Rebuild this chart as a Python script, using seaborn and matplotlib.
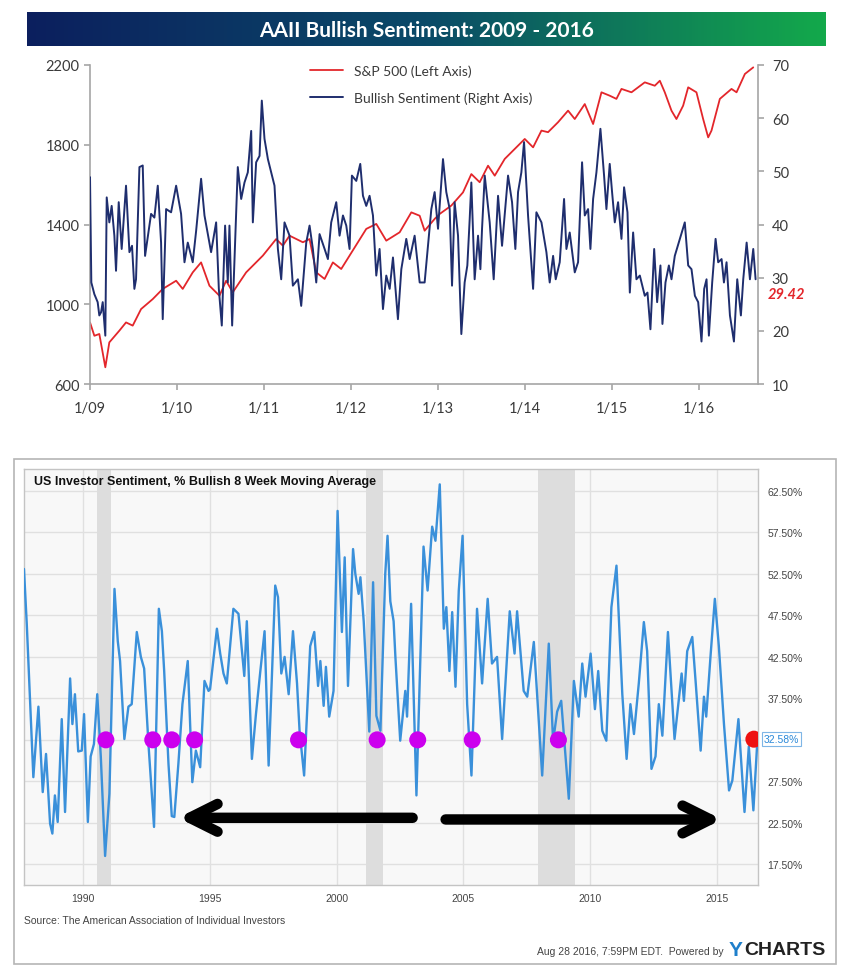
import numpy as np
import pandas as pd
import matplotlib
matplotlib.use("Agg")
import matplotlib.pyplot as plt
import matplotlib.patches as mpatches
import matplotlib.transforms as mtrans
from matplotlib.colors import LinearSegmentedColormap
import seaborn as sns

sns.set_style("white")
plt.rcParams['font.family'] = ['Lato', 'DejaVu Sans']
ARIAL = ['Liberation Sans', 'DejaVu Sans']

# ---------------- top chart data ----------------
sp_t = [2009.000, 2009.050, 2009.107, 2009.176, 2009.222, 2009.338, 2009.414, 2009.491, 2009.587, 2009.721,
        2009.836, 2009.990, 2010.066, 2010.181, 2010.277, 2010.373, 2010.488, 2010.565, 2010.641, 2010.795,
        2010.987, 2011.140, 2011.217, 2011.294, 2011.447, 2011.524, 2011.601, 2011.697, 2011.792, 2011.888,
        2011.984, 2012.176, 2012.291, 2012.406, 2012.560, 2012.694, 2012.790, 2012.847, 2012.962, 2013.020,
        2013.154, 2013.288, 2013.384, 2013.480, 2013.576, 2013.653, 2013.768, 2013.883, 2013.998, 2014.094,
        2014.190, 2014.266, 2014.381, 2014.496, 2014.573, 2014.688, 2014.784, 2014.880, 2014.975, 2015.052,
        2015.110, 2015.225, 2015.378, 2015.493, 2015.551, 2015.608, 2015.685, 2015.742, 2015.819, 2015.877,
        2015.972, 2016.049, 2016.107, 2016.145, 2016.241, 2016.375, 2016.433, 2016.529, 2016.625]
sp_v = [909, 842, 851, 684, 809, 868, 909, 893, 976, 1026,
        1077, 1118, 1077, 1160, 1210, 1093, 1043, 1118, 1060, 1160,
        1244, 1327, 1294, 1344, 1311, 1327, 1160, 1127, 1210, 1177,
        1244, 1378, 1403, 1319, 1361, 1461, 1444, 1369, 1428, 1453,
        1495, 1561, 1653, 1612, 1695, 1645, 1729, 1779, 1829, 1787,
        1871, 1863, 1913, 1971, 1929, 2004, 1904, 2063, 2046, 2030,
        2080, 2063, 2113, 2096, 2121, 2063, 1971, 1929, 1996, 2088,
        2063, 1929, 1837, 1871, 2030, 2080, 2063, 2155, 2188]

bull_t_a = [2009.000, 2009.015, 2009.050, 2009.088, 2009.107, 2009.127, 2009.146, 2009.176, 2009.192, 2009.222,
            2009.249, 2009.280, 2009.299, 2009.330, 2009.364, 2009.414, 2009.453, 2009.483, 2009.510, 2009.529,
            2009.568, 2009.606, 2009.633, 2009.664, 2009.702, 2009.740, 2009.779, 2009.817, 2009.836, 2009.875,
            2009.932, 2009.990, 2010.047, 2010.086, 2010.124, 2010.181, 2010.220, 2010.277, 2010.316, 2010.354,
            2010.392, 2010.450, 2010.481, 2010.515, 2010.553, 2010.584, 2010.603, 2010.634, 2010.699, 2010.738,
            2010.776, 2010.814, 2010.853, 2010.872, 2010.910, 2010.949, 2010.975, 2011.006, 2011.045, 2011.083,
            2011.121, 2011.160, 2011.198, 2011.236, 2011.294, 2011.332, 2011.390, 2011.428, 2011.486, 2011.524,
            2011.562, 2011.601, 2011.639, 2011.697, 2011.735, 2011.773, 2011.831, 2011.869, 2011.908, 2011.946,
            2011.984, 2012.011, 2012.061, 2012.107, 2012.138, 2012.176, 2012.214, 2012.253, 2012.291, 2012.329,
            2012.368, 2012.406, 2012.445, 2012.483, 2012.540, 2012.579, 2012.636, 2012.675, 2012.732, 2012.790]
bull_v_a = [48.9, 29.1, 26.9, 25.4, 22.9, 23.5, 25.4, 19.1, 45.1, 40.4,
            43.5, 37.9, 31.3, 44.2, 35.4, 47.3, 34.8, 36.0, 27.9, 29.7,
            50.8, 51.1, 34.1, 37.6, 42.0, 41.3, 47.3, 36.6, 22.2, 42.9,
            42.3, 47.3, 42.0, 32.9, 36.6, 32.9, 38.8, 48.6, 41.7, 38.2,
            34.8, 40.4, 27.9, 21.0, 39.8, 29.1, 39.8, 21.0, 50.8, 44.8,
            47.9, 49.8, 57.6, 40.4, 51.7, 52.9, 63.3, 56.1, 52.3, 49.8,
            47.3, 35.4, 29.7, 40.4, 37.9, 28.5, 29.7, 24.7, 36.6, 39.8,
            35.4, 29.1, 38.2, 35.4, 33.5, 40.4, 44.2, 37.9, 41.7, 39.8,
            35.4, 49.2, 48.2, 51.4, 45.4, 43.5, 45.4, 41.7, 30.4, 35.4,
            24.1, 30.4, 27.9, 33.8, 22.2, 31.6, 37.3, 33.5, 37.9, 29.1]
bull_t_b = [2012.847, 2012.924, 2012.962, 2013.001, 2013.058, 2013.096, 2013.135, 2013.162, 2013.192, 2013.231,
            2013.269, 2013.307, 2013.338, 2013.365, 2013.384, 2013.422, 2013.461, 2013.488, 2013.507, 2013.538,
            2013.595, 2013.641, 2013.691, 2013.737, 2013.806, 2013.852, 2013.890, 2013.921, 2013.959, 2013.990,
            2014.036, 2014.094, 2014.132, 2014.190, 2014.247, 2014.285, 2014.324, 2014.354, 2014.400, 2014.450,
            2014.477, 2014.515, 2014.573, 2014.611, 2014.657, 2014.688, 2014.726, 2014.753, 2014.784, 2014.822,
            2014.868, 2014.910, 2014.937, 2014.975, 2015.002, 2015.033, 2015.071, 2015.110, 2015.140, 2015.179,
            2015.206, 2015.244, 2015.282, 2015.321, 2015.378, 2015.409, 2015.443, 2015.486, 2015.520, 2015.558,
            2015.581, 2015.616, 2015.655, 2015.685, 2015.723, 2015.781, 2015.838, 2015.877, 2015.915, 2015.954,
            2015.992, 2016.030, 2016.061, 2016.088, 2016.115, 2016.153, 2016.192, 2016.222, 2016.261, 2016.288,
            2016.318, 2016.357, 2016.403, 2016.441, 2016.483, 2016.510, 2016.549, 2016.587, 2016.625, 2016.652]
bull_v_b = [29.1, 42.9, 46.1, 39.2, 52.3, 46.1, 42.9, 28.5, 44.2, 37.9,
            19.4, 29.1, 32.3, 41.0, 47.9, 29.7, 37.9, 31.6, 39.2, 49.2,
            40.4, 29.7, 45.4, 36.0, 49.2, 44.2, 35.4, 46.1, 49.8, 55.5,
            41.7, 27.9, 42.3, 40.4, 34.8, 29.1, 34.1, 29.7, 32.9, 44.8,
            35.4, 38.5, 31.0, 32.9, 51.7, 41.7, 42.9, 35.4, 44.8, 49.8,
            58.0, 49.2, 42.9, 51.4, 46.1, 40.4, 44.2, 37.3, 47.0, 42.3,
            27.2, 38.5, 29.7, 30.4, 26.6, 27.2, 20.3, 35.4, 25.4, 32.3,
            21.3, 29.1, 32.3, 29.7, 34.1, 37.3, 40.4, 32.3, 31.6, 26.6,
            25.4, 18.0, 27.9, 29.7, 19.1, 29.1, 37.3, 32.9, 33.5, 29.1,
            32.9, 22.9, 18.0, 29.7, 22.9, 29.7, 36.6, 29.7, 35.4, 29.7]
bull_latest = '29.42'
top_xticks = [2009, 2010, 2011, 2012, 2013, 2014, 2015, 2016]
top_xlabels = ['1/09', '1/10', '1/11', '1/12', '1/13', '1/14', '1/15', '1/16']

# ---------------- bottom chart data (8 week moving average) ----------------
ma_t = [1987.67, 1987.78, 1988.04, 1988.24, 1988.41, 1988.54, 1988.70, 1988.79, 1988.89, 1989.00,
        1989.16, 1989.29, 1989.49, 1989.58, 1989.68, 1989.81, 1989.95, 1990.04, 1990.19, 1990.30,
        1990.43, 1990.56, 1990.70, 1990.87, 1991.04, 1991.24, 1991.37, 1991.46, 1991.63, 1991.79,
        1991.92, 1992.12, 1992.28, 1992.41, 1992.58, 1992.80, 1992.99, 1993.11, 1993.20, 1993.37,
        1993.50, 1993.60, 1993.76, 1993.92, 1994.13, 1994.31, 1994.45, 1994.62, 1994.79, 1994.95,
        1995.01, 1995.28, 1995.41, 1995.54, 1995.67, 1995.93, 1996.13, 1996.36, 1996.46, 1996.66,
        1996.82, 1996.99, 1997.16, 1997.32, 1997.58, 1997.69, 1997.82, 1997.95, 1998.11, 1998.28,
        1998.44, 1998.54, 1998.72, 1998.96, 1999.12, 1999.27, 1999.36, 1999.49, 1999.58, 1999.71,
        1999.88, 2000.04, 2000.21, 2000.32, 2000.45, 2000.65, 2000.74, 2000.87, 2000.94, 2001.07,
        2001.29, 2001.44, 2001.57, 2001.73, 2001.92, 2002.01, 2002.12, 2002.25, 2002.32, 2002.51,
        2002.71, 2002.78, 2002.94, 2003.15, 2003.43, 2003.59, 2003.77, 2003.90, 2004.07, 2004.23,
        2004.33, 2004.45, 2004.56, 2004.69, 2004.82, 2004.97, 2005.15, 2005.32, 2005.54, 2005.74,
        2005.96, 2006.13, 2006.33, 2006.53, 2006.83, 2007.02, 2007.12, 2007.38, 2007.52, 2007.78,
        2008.11, 2008.37, 2008.54, 2008.70, 2008.86, 2009.16, 2009.36, 2009.55, 2009.69, 2009.82,
        2010.02, 2010.19, 2010.32, 2010.48, 2010.64, 2010.84, 2011.04, 2011.27, 2011.44, 2011.59,
        2011.73, 2011.92, 2012.12, 2012.25, 2012.42, 2012.58, 2012.71, 2012.85, 2013.07, 2013.33,
        2013.61, 2013.70, 2013.83, 2014.03, 2014.16, 2014.36, 2014.49, 2014.58, 2014.75, 2014.92,
        2015.08, 2015.28, 2015.48, 2015.61, 2015.85, 2016.09, 2016.26, 2016.44, 2016.60]
ma_v = [53.1, 46.5, 28.0, 36.5, 26.2, 30.8, 22.4, 21.2, 25.8, 22.6,
        35.0, 23.8, 39.9, 34.4, 38.0, 31.1, 31.2, 35.6, 22.6, 30.5,
        32.0, 38.0, 30.5, 18.5, 26.0, 50.7, 44.4, 42.0, 32.6, 36.5,
        36.8, 45.5, 42.5, 41.1, 32.0, 22.0, 48.3, 45.6, 40.8, 29.6,
        23.3, 23.2, 29.6, 36.8, 42.0, 27.4, 31.2, 29.2, 39.6, 38.4,
        38.6, 45.9, 42.9, 40.5, 39.3, 48.3, 47.7, 40.2, 46.8, 30.2,
        35.6, 40.7, 45.6, 29.4, 51.1, 49.7, 40.5, 42.5, 38.0, 45.6,
        39.3, 33.6, 28.2, 43.8, 45.5, 39.0, 42.0, 36.6, 41.3, 35.3,
        38.4, 60.1, 45.5, 54.5, 39.0, 55.5, 52.5, 50.1, 52.1, 46.8,
        33.5, 51.5, 35.4, 33.6, 52.5, 57.1, 49.2, 46.8, 42.5, 32.4,
        38.4, 35.3, 48.9, 25.8, 55.8, 50.5, 58.2, 56.5, 63.3, 45.9,
        48.5, 40.8, 47.9, 38.9, 50.5, 57.1, 36.8, 28.2, 48.3, 39.3,
        49.5, 41.7, 42.5, 32.6, 48.0, 42.9, 48.0, 38.4, 37.7, 44.3,
        28.2, 44.1, 32.3, 35.9, 37.2, 25.4, 39.6, 35.3, 41.7, 37.7,
        42.9, 36.2, 40.8, 33.6, 32.4, 48.5, 53.5, 38.0, 30.2, 36.8,
        33.2, 39.3, 46.7, 43.2, 29.0, 30.5, 36.8, 33.0, 45.5, 32.6,
        40.5, 37.2, 43.2, 44.9, 39.6, 31.2, 37.7, 35.3, 42.6, 49.5,
        43.7, 34.4, 26.4, 27.6, 35.0, 23.8, 31.7, 24.0, 32.58]
recessions = [(1990.56, 1991.10), (2001.17, 2001.82), (2007.95, 2009.40)]
marked_years = [1990.9, 1992.75, 1993.5, 1994.4, 1998.5, 2001.6, 2003.2, 2005.35, 2008.75]
marked_level = 32.5
latest_year, latest_value = 2016.46, 32.58
arrow_tails = [2003.0, 2004.3]
arrow_tips = [1993.75, 2015.2]
arrow_levels = [23.1, 22.9]
bottom_yticks = [17.5, 22.5, 27.5, 32.5, 37.5, 42.5, 47.5, 52.5, 57.5, 62.5]
bottom_xticks = [1990, 1995, 2000, 2005, 2010, 2015]

assert len(sp_t) == len(sp_v)
assert len(bull_t_a) == len(bull_v_a) and len(bull_t_b) == len(bull_v_b)
assert len(ma_t) == len(ma_v)

sp_df = pd.DataFrame({'date': sp_t, 'sp500': sp_v})
bull_df = pd.DataFrame({'date': bull_t_a + bull_t_b, 'bullish': bull_v_a + bull_v_b})
ma_df = pd.DataFrame({'date': ma_t, 'ma': ma_v})

fig = plt.figure(figsize=(8.5, 9.79), dpi=100)

# banner with gradient
bax = fig.add_axes([0.0318, 0.952, 0.94, 0.0347])
cmap = LinearSegmentedColormap.from_list('banner', ['#0c1f5e', '#0a4a68', '#13a94b'])
bax.imshow(np.linspace(0, 1, 256).reshape(1, -1), aspect='auto', cmap=cmap, extent=[0, 1, 0, 1])
bax.set_axis_off()
bax.text(0.5, 0.47, 'AAII Bullish Sentiment: 2009 - 2016', color='white', fontsize=15,
         fontweight='bold', ha='center', va='center', transform=bax.transAxes)

# ---------------- top chart ----------------
RED = '#e3262b'
NAVY = '#1f2e6e'
SPINE = '#a6a6a6'
ax1 = fig.add_axes([0.1059, 0.6067, 0.7859, 0.3259])
sns.lineplot(data=sp_df, x='date', y='sp500', ax=ax1, color=RED, lw=1.3,
             label='S&P 500 (Left Axis)', legend=False)
ax2 = ax1.twinx()
sns.lineplot(data=bull_df, x='date', y='bullish', ax=ax2, color=NAVY, lw=1.4,
             label='Bullish Sentiment (Right Axis)', legend=False)

ax1.set_xlim(2009, 2016.68)
ax1.set_ylim(600, 2200)
ax2.set_ylim(10, 70)
ax1.set_yticks([600, 1000, 1400, 1800, 2200])
ax2.set_yticks([10, 20, 30, 40, 50, 60, 70])
ax1.set_xticks(top_xticks, top_xlabels)
for a in (ax1, ax2):
    a.set_xlabel('')
    a.set_ylabel('')
    for s in a.spines.values():
        s.set_color(SPINE)
        s.set_linewidth(1.2)
    a.spines['top'].set_visible(False)
ax1.spines['right'].set_visible(False)
ax2.spines['left'].set_visible(False)
ax2.spines['bottom'].set_visible(False)
ax1.tick_params(axis='both', bottom=True, left=True, direction='out', length=4, width=1.2,
                color=SPINE, labelsize=10.5, labelcolor='#3a3a3a')
ax1.tick_params(axis='x', pad=8)
ax2.tick_params(axis='y', right=True, direction='out', length=4, width=1.2,
                color=SPINE, labelsize=10.5, labelcolor='#3a3a3a', pad=6)

handles = ax1.get_lines()[:1] + ax2.get_lines()[:1]
ax2.legend(handles, [h.get_label() for h in handles], loc='upper left', bbox_to_anchor=(0.31, 1.04),
           frameon=False, fontsize=10, handlelength=2.4, labelspacing=1.0, labelcolor='#3a3a3a')

ax2.text(1.015, 26.9, bull_latest, transform=mtrans.blended_transform_factory(ax2.transAxes, ax2.transData),
         color=RED, fontsize=10.5, fontweight='bold', fontstyle='italic', va='center', ha='left')

# ---------------- bottom chart ----------------
fig.add_artist(mpatches.Rectangle((0.0165, 0.0143), 0.967, 0.5158, transform=fig.transFigure,
                                  fill=False, edgecolor='#b5b5b5', lw=1.2))
ax3 = fig.add_axes([0.0282, 0.095, 0.8635, 0.4249])
ax3.set_facecolor('#f8f8f8')
for a, b in recessions:
    ax3.axvspan(a, b, color='#dddddd', lw=0, zorder=1)
sns.lineplot(data=ma_df, x='date', y='ma', ax=ax3, color='#3a90da', lw=1.7, zorder=3)
sns.scatterplot(x=marked_years, y=[marked_level] * len(marked_years), ax=ax3, color='#cc00ee',
                s=150, edgecolor='none', zorder=4)
sns.scatterplot(x=[latest_year], y=[latest_value], ax=ax3, color='#ee1111', s=150,
                edgecolor='none', zorder=5)

for tail, tip, lvl in zip(arrow_tails, arrow_tips, arrow_levels):
    ax3.annotate('', xy=(tip, lvl), xytext=(tail, lvl),
                 arrowprops=dict(arrowstyle='->,head_length=2.0,head_width=1.0', lw=7.5,
                                 color='black', capstyle='round', joinstyle='round',
                                 shrinkA=0, shrinkB=0), zorder=6)

ax3.set_xlim(1987.67, 2016.62)
ax3.set_ylim(15.0, 65.15)
ax3.yaxis.tick_right()
ax3.set_yticks(bottom_yticks, ['' if v == 32.5 else f'{v:.2f}%' for v in bottom_yticks],
               fontfamily=ARIAL)
ax3.set_xticks(bottom_xticks, [str(v) for v in bottom_xticks], fontfamily=ARIAL)
ax3.tick_params(axis='both', length=0, labelsize=7.5, labelcolor='#444444')
ax3.tick_params(axis='y', right=False, pad=7)
ax3.tick_params(axis='x', pad=6)
ax3.set_xlabel('')
ax3.set_ylabel('')
ax3.grid(True, color='#e0e0e0', lw=1)
ax3.set_axisbelow(True)
for s in ax3.spines.values():
    s.set_visible(True)
    s.set_color('#c4c4c4')
    s.set_linewidth(1)

ax3.text(0.013, 0.97, 'US Investor Sentiment, % Bullish 8 Week Moving Average', transform=ax3.transAxes,
         fontsize=9, fontweight='bold', fontfamily=ARIAL, color='#111111', va='center', ha='left')
ax3.text(1.008, latest_value, f'{latest_value:.2f}%',
         transform=mtrans.blended_transform_factory(ax3.transAxes, ax3.transData),
         fontsize=7.5, fontfamily=ARIAL, color='#2a88d8', va='center', ha='left',
         bbox=dict(boxstyle='square,pad=0.2', fc='white', ec='#7fb6e6', lw=0.8))

fig.text(24 / 850, 1 - 921 / 979, 'Source: The American Association of Individual Investors',
         fontsize=7.5, fontfamily=ARIAL, color='#444444', va='center', ha='left')
fig.text(0.851, 1 - 952 / 979, 'Aug 28 2016, 7:59PM EDT.  Powered by', fontsize=7.5,
         fontfamily=ARIAL, color='#444444', va='center', ha='right')
fig.text(729 / 850, 1 - 951 / 979, 'Y', fontsize=15, fontweight='bold', fontfamily=ARIAL,
         color='#1e7fcb', va='center', ha='left')
fig.text(744 / 850, 1 - 951 / 979, 'CHARTS', fontsize=14, fontweight='bold', fontfamily=ARIAL,
         color='#222222', va='center', ha='left')

fig.savefig('out.png', dpi=100)
